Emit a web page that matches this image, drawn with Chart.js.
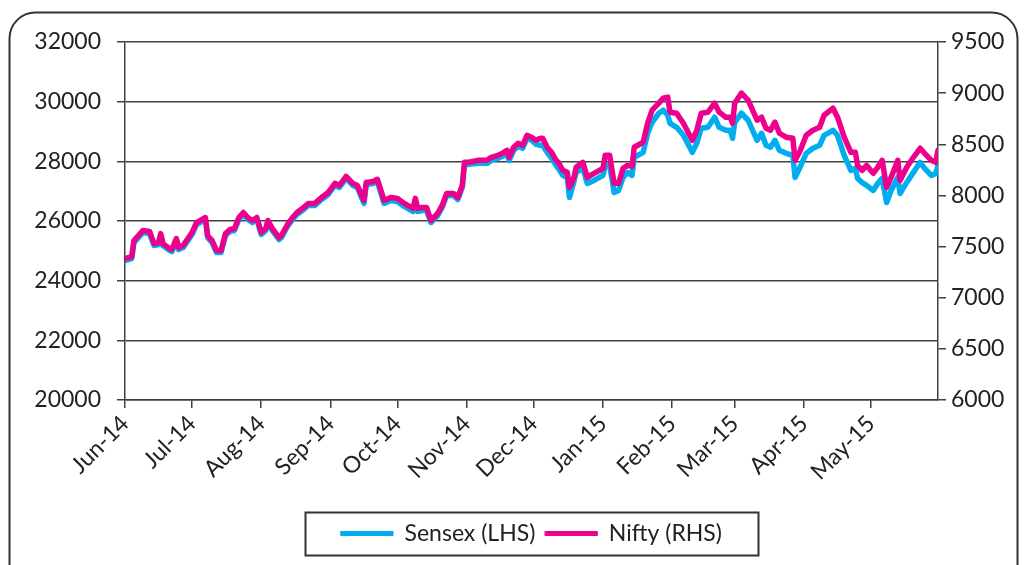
<!DOCTYPE html>
<html>
<head>
<meta charset="utf-8">
<script src="https://cdn.jsdelivr.net/npm/chart.js@4.4.1/dist/chart.umd.min.js"></script>
<style>
  body { margin: 0; background: #fff; }
  canvas { display: block; }
</style>
</head>
<body>
<canvas id="chart" width="1024" height="565"></canvas>
<script>
// days since 1 Jun 2014 (trading days)
const days = [
  0,3,4,8,11,13,15,16,17,20,21,23,24,26,30,
  32,36,37,39,41,43,45,47,49,51,53,55,57,59,61,
  63,64,66,69,70,73,75,77,80,82,85,88,91,94,96,
  99,102,104,107,108,111,113,115,116,119,122,125,129,130,131,
  133,135,137,140,142,144,147,149,151,152,154,158,162,164,167,
  169,171,172,174,176,178,180,182,184,186,187,189,191,193,194,
  196,198,199,201,202,205,207,210,214,215,217,219,221,223,225,
  227,228,232,234,236,239,241,243,244,247,250,254,256,258,261,
  264,266,269,271,272,273,276,279,281,283,285,287,289,291,293,
  296,299,300,302,305,308,311,313,317,319,322,325,327,328,330,
  332,335,337,339,341,343,346,347,350,353,356,358,361,363,364
];

const sensex = [
  24672,24739,25277,25613,25579,25176,25210,25512,25176,25008,24974,25344,25042,25109,25546,
  25882,26050,25445,25277,24941,24941,25512,25646,25680,26050,26218,26050,25949,26050,25546,
  25680,25949,25680,25378,25445,25848,26050,26218,26386,26520,26520,26722,26890,27193,27125,
  27428,27193,27125,26588,27226,27260,27327,26823,26588,26688,26655,26487,26319,26655,26319,
  26352,26352,25949,26184,26453,26856,26856,26722,27125,27898,27898,27932,27932,28033,28100,
  28167,28268,28033,28369,28503,28436,28772,28705,28571,28537,28537,28302,28100,27865,27764,
  27529,27461,26789,27327,27629,27764,27260,27361,27529,27865,27865,26957,27024,27461,27629,
  27529,28134,28302,28940,29310,29612,29713,29545,29276,29142,28873,28302,28604,29108,29142,
  29478,29142,29041,29041,28772,29310,29612,29377,29041,28705,28940,28537,28470,28705,28369,
  28268,28201,27461,27764,28268,28436,28537,28873,29041,28873,28201,27697,27764,27428,27293,
  27193,27024,27260,27428,26621,27024,27461,26923,27293,27629,27966,27764,27529,27596,27865
];

const nifty = [
  7382,7402,7559,7657,7647,7529,7539,7627,7529,7480,7471,7578,7490,7510,7637,
  7735,7784,7608,7559,7461,7461,7627,7667,7676,7784,7833,7784,7755,7784,7637,
  7676,7755,7676,7588,7608,7725,7784,7833,7882,7922,7922,7980,8029,8118,8098,
  8186,8118,8098,7951,8127,8137,8157,8020,7951,7980,7971,7922,7873,7971,7873,
  7882,7882,7755,7824,7902,8020,8020,7980,8098,8324,8324,8343,8343,8373,8392,
  8412,8441,8373,8471,8510,8490,8588,8569,8539,8559,8559,8471,8422,8343,8324,
  8245,8226,8078,8176,8275,8324,8176,8216,8265,8392,8392,8118,8118,8265,8294,
  8284,8471,8520,8706,8833,8902,8951,8961,8814,8804,8706,8539,8637,8804,8814,
  8902,8814,8765,8765,8706,8902,9000,8931,8833,8735,8765,8657,8637,8716,8608,
  8569,8559,8343,8422,8588,8637,8667,8784,8853,8765,8569,8422,8422,8294,8245,
  8294,8216,8275,8343,8078,8176,8343,8147,8275,8373,8461,8412,8343,8324,8441
];

// month starts (days since 1 Jun 2014) and their labels
const monthTicks = [0, 30, 61, 92, 122, 153, 183, 214, 245, 273, 304, 334];
const monthLabels = ["Jun-14", "Jul-14", "Aug-14", "Sep-14", "Oct-14", "Nov-14",
                     "Dec-14", "Jan-15", "Feb-15", "Mar-15", "Apr-15", "May-15"];

const FONT = { family: "Lato, 'Open Sans', sans-serif", size: 23 };
const AXIS = "#404040";

// rounded frame round the whole chart + box round the legend
const framePlugin = {
  id: "frame",
  beforeDraw(chart) {
    const ctx = chart.ctx;
    ctx.save();
    ctx.fillStyle = "#fff";
    ctx.fillRect(0, 0, chart.width, chart.height);
    ctx.strokeStyle = "#333";
    ctx.lineWidth = 2;
    ctx.beginPath();
    ctx.roundRect(9.5, 12.5, 1008, 600, 26);
    ctx.stroke();
    ctx.restore();
  },
  afterDraw(chart) {
    const boxes = chart.legend.legendHitBoxes;
    if (!boxes || !boxes.length) return;
    const left = Math.min(...boxes.map(b => b.left)) - 36;
    const right = Math.max(...boxes.map(b => b.left + b.width)) + 36;
    const top = boxes[0].top - 10;
    const bottom = boxes[0].top + boxes[0].height + 10;
    const ctx = chart.ctx;
    ctx.save();
    ctx.strokeStyle = "#333";
    ctx.lineWidth = 2;
    ctx.strokeRect(Math.round(left) + 0.5, Math.round(top) + 0.5, Math.round(right - left), Math.round(bottom - top));
    ctx.restore();
  }
};

new Chart(document.getElementById("chart"), {
  type: "line",
  data: {
    datasets: [
      {
        label: "Sensex (LHS)",
        data: days.map((d, i) => ({ x: d, y: sensex[i] })),
        borderColor: "#00AEEF",
        backgroundColor: "#00AEEF",
        borderWidth: 5.5,
        pointRadius: 0,
        yAxisID: "y",
        order: 1
      },
      {
        label: "Nifty (RHS)",
        data: days.map((d, i) => ({ x: d, y: nifty[i] })),
        borderColor: "#EC008C",
        backgroundColor: "#EC008C",
        borderWidth: 5.5,
        pointRadius: 0,
        yAxisID: "y1",
        order: 0
      }
    ]
  },
  options: {
    responsive: false,
    animation: false,
    layout: { padding: { left: 0, right: 0, top: 42, bottom: 10 } },
    elements: { line: { tension: 0, borderJoinStyle: "round", borderCapStyle: "round" } },
    plugins: {
      tooltip: { enabled: false },
      legend: {
        position: "bottom",
        fullSize: false,
        labels: {
          font: FONT,
          color: "#222",
          boxWidth: 52,
          boxHeight: 4,
          padding: 10,
          sort: (a, b) => a.datasetIndex - b.datasetIndex,
          generateLabels: (chart) =>
            Chart.defaults.plugins.legend.labels.generateLabels(chart).map(l => ({ ...l, lineWidth: 1 }))
        }
      }
    },
    scales: {
      x: {
        type: "linear",
        min: 0,
        max: 364,
        afterFit: (s) => { s.height = 112; },
        afterBuildTicks: (s) => { s.ticks = monthTicks.map(v => ({ value: v })); },
        grid: { drawOnChartArea: false, drawTicks: true, tickLength: 8, color: AXIS, lineWidth: 1.5 },
        border: { color: AXIS, width: 1.5 },
        ticks: {
          autoSkip: false,
          minRotation: 45,
          maxRotation: 45,
          padding: 2,
          font: FONT,
          color: "#222",
          callback: (v) => monthLabels[monthTicks.indexOf(v)]
        }
      },
      y: {
        position: "left",
        min: 20000,
        max: 32000,
        afterFit: (s) => { s.width = 125; },
        grid: { color: AXIS, lineWidth: 1.5, tickLength: 8 },
        border: { color: AXIS, width: 1.5 },
        ticks: { stepSize: 2000, padding: 16, font: FONT, color: "#222", callback: (v) => String(v) }
      },
      y1: {
        position: "right",
        min: 6000,
        max: 9500,
        afterFit: (s) => { s.width = 86; },
        grid: { drawOnChartArea: false, color: AXIS, lineWidth: 1.5, tickLength: 8 },
        border: { color: AXIS, width: 1.5 },
        ticks: { stepSize: 500, padding: 5, font: FONT, color: "#222", callback: (v) => String(v) }
      }
    }
  },
  plugins: [framePlugin]
});
</script>
</body>
</html>
